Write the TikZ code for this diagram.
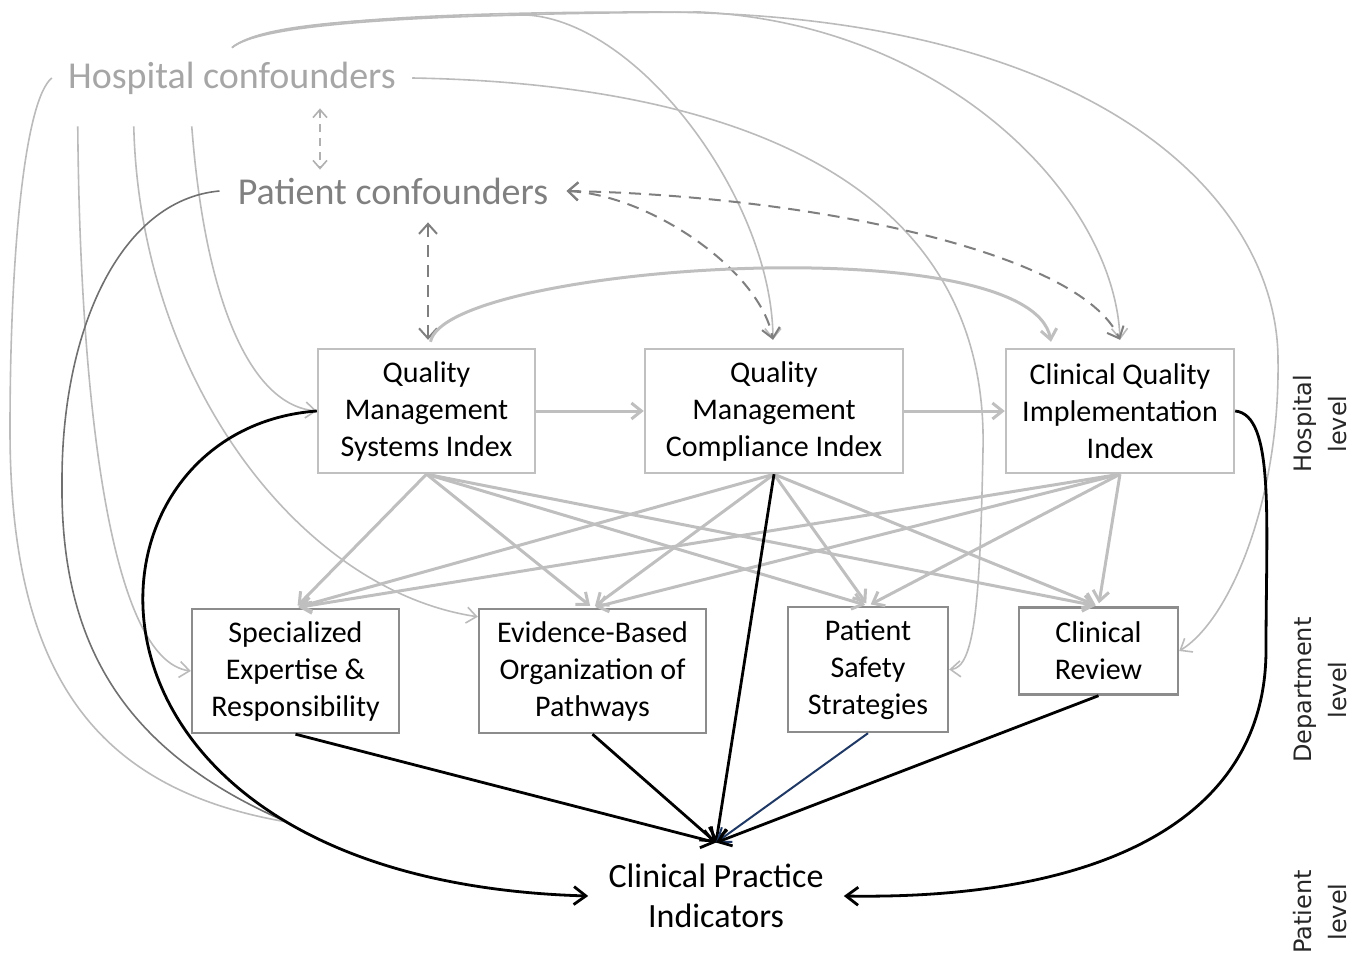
\documentclass[tikz,border=0pt]{standalone}
\usepackage{fontspec}
\setmainfont{Carlito}
\newfontfamily\lvlfont{DejaVu Sans}
\usetikzlibrary{arrows.meta,calc}
\definecolor{hcgray}{HTML}{A6A6A6}
\definecolor{pcgray}{HTML}{808080}
\definecolor{thingray}{HTML}{BBBBBB}
\definecolor{thickgray}{HTML}{BFBFBF}
\definecolor{darkline}{HTML}{707070}
\definecolor{dashgray}{HTML}{7F7F7F}
\definecolor{lightdash}{HTML}{B0B0B0}
\definecolor{hbox}{HTML}{C0C0C0}
\definecolor{dbox}{HTML}{8C8C8C}
\definecolor{navyline}{HTML}{1F3864}
\begin{document}
\begin{tikzpicture}[x=0.5pt,y=-0.5pt,
 barb/.style={-{Straight Barb[length=5pt,width=8pt]}},
 hbx/.style={draw=hbox,line width=1.2pt,align=center,inner sep=0pt,font=\fontsize{15}{18.5}\selectfont,minimum height=62pt},
 dbx/.style={draw=dbox,line width=1.2pt,align=center,inner sep=0pt,font=\fontsize{15}{18.5}\selectfont},
 conf/.style={font=\fontsize{19}{23}\selectfont,inner ysep=0pt,minimum height=30pt},
 gthin/.style={draw=thingray,line width=0.8pt},
 gthinar/.style={gthin,barb},
 gthick/.style={draw=thickgray,line width=1.5pt,barb},
 blk/.style={draw=black,line width=1.4pt,-{Straight Barb[length=6pt,width=9pt]}},
 dashA/.style={draw=lightdash,line width=0.8pt,dash pattern=on 4pt off 3pt,{Straight Barb[length=4pt,width=7pt]}-{Straight Barb[length=4pt,width=7pt]}},
 dashB/.style={draw=dashgray,line width=1pt,dash pattern=on 6pt off 4pt,{Straight Barb[length=5pt,width=9pt]}-{Straight Barb[length=5pt,width=9pt]}},
 lvl/.style={font=\lvlfont\fontsize{12}{17.5}\selectfont,rotate=90,align=center,text=black!85},
]
\useasboundingbox (0,0) rectangle (1356,953);

% nodes
\node[conf,text=hcgray,inner xsep=8pt] (HC) at (232,78) {Hospital confounders};
\node[conf,text=pcgray,inner xsep=9pt,minimum height=28pt] (PC) at (393,191) {Patient confounders};

\node[hbx,minimum width=108.5pt] (QMS) at (426.5,411) {Quality\\Management\\Systems Index};
\node[hbx,minimum width=129pt] (QMC) at (774,411) {Quality\\Management\\Compliance Index};
\node[hbx,minimum width=114pt] (CQI) at (1120,411) {Clinical Quality\\Implementation\\Index};
\node[dbx,minimum width=103.5pt,minimum height=62pt] (SER) at (295.5,671) {Specialized\\Expertise \&\\Responsibility};
\node[dbx,minimum width=113.5pt,minimum height=62pt] (EBO) at (592.5,671) {Evidence-Based\\Organization of\\Pathways};
\node[dbx,minimum width=80pt,minimum height=62.5pt] (PSS) at (868,669.5) {Patient\\Safety\\Strategies};
\node[dbx,minimum width=79.5pt,minimum height=43.5pt] (CR) at (1098.5,651) {Clinical\\Review};
\node[align=center,font=\fontsize{17}{20}\selectfont,inner xsep=10pt,inner ysep=0pt,minimum height=53pt] (CPI) at (716,896) {Clinical Practice\\Indicators};

\node[lvl] (LH) at (1320,424) {Hospital\\level};
\node[lvl] (LD) at (1320,690) {Department\\level};
\node[lvl] (LP) at (1320,912) {Patient\\level};

\coordinate (mrg) at (287,822);

% hospital confounder paths
\draw[gthin] (HC.west) .. controls (25,100) and (10,250) .. (10,430) .. controls (10,680) and (100,790) .. (mrg);
\draw[gthinar] ($(HC.south west)+(26,18)$) .. controls (80,400) and (110,660) .. (SER.west);
\draw[gthinar] ($(HC.south west)+(82,18)$) .. controls (140,380) and (300,590) .. ($(EBO.north west)+(0,9)$);
\draw[gthinar] ($(HC.south west)+(140,18)$) .. controls (205,300) and (250,405) .. (QMS.west);
\draw[gthinar] (HC.north) .. controls (260,25) and (350,18) .. (527,15) .. controls (640,22) and (772,200) .. ($(QMC.north)+(-1,-8)$);
\draw[gthinar] (HC.north) .. controls (260,25) and (400,14) .. (700,12) .. controls (950,25) and (1115,200) .. ($(CQI.north)+(0,-8)$);
\draw[gthinar] (HC.north) .. controls (260,24) and (400,12) .. (650,12) .. controls (1100,12) and (1278,200) .. (1278,360) .. controls (1280,500) and (1230,620) .. (CR.east);
\draw[gthinar] (HC.east) .. controls (650,82) and (990,140) .. (983,450) .. controls (980,600) and (975,668) .. (PSS.east);

% patient confounder paths
\draw[draw=darkline,line width=0.8pt] (PC.west) .. controls (120,200) and (62,330) .. (62,480) .. controls (60,640) and (120,750) .. (mrg);
\draw[dashA] ($(HC.south)+(88,0)$) -- ($(PC.north)+(-73,7)$);
\draw[dashB] ($(PC.south)+(35,3)$) -- ($(QMS.north)+(1.5,-8)$);
\draw[dashB] (PC.east) .. controls (650,195) and (760,270) .. ($(QMC.north)+(-1,-8)$);
\draw[dashB] (PC.east) .. controls (800,195) and (1080,250) .. ($(CQI.north)+(0,-8)$);

% hospital level
\draw[gthick] (QMS.east) -- (QMC.west);
\draw[gthick] (QMC.east) -- (CQI.west);
\draw[gthick] ($(QMS.north)+(4,-6)$) .. controls (445,265) and (1030,225) .. ($(CQI.north)+(-69,-6)$);

% hospital -> department
\foreach \s in {QMS,QMC,CQI}
  \foreach \t in {SER,EBO,PSS,CR}
    \draw[gthick,shorten >=1.5pt] (\s.south) -- (\t.north);

% to clinical practice indicators
\draw[blk] (QMS.west) .. controls (60,430) and (40,880) .. (CPI.west);
\draw[blk] (CQI.east) .. controls (1275,415) and (1266,520) .. (1266,650) .. controls (1266,820) and (1100,900) .. (CPI.east);
\draw[blk] (SER.south) -- (CPI.north);
\draw[blk] (EBO.south) -- (CPI.north);
\draw[blk] (QMC.south) -- (CPI.north);
\draw[blk,draw=navyline,line width=1pt] (PSS.south) -- (CPI.north);
\draw[blk] (CR.south) -- (CPI.north);
\end{tikzpicture}
\end{document}
